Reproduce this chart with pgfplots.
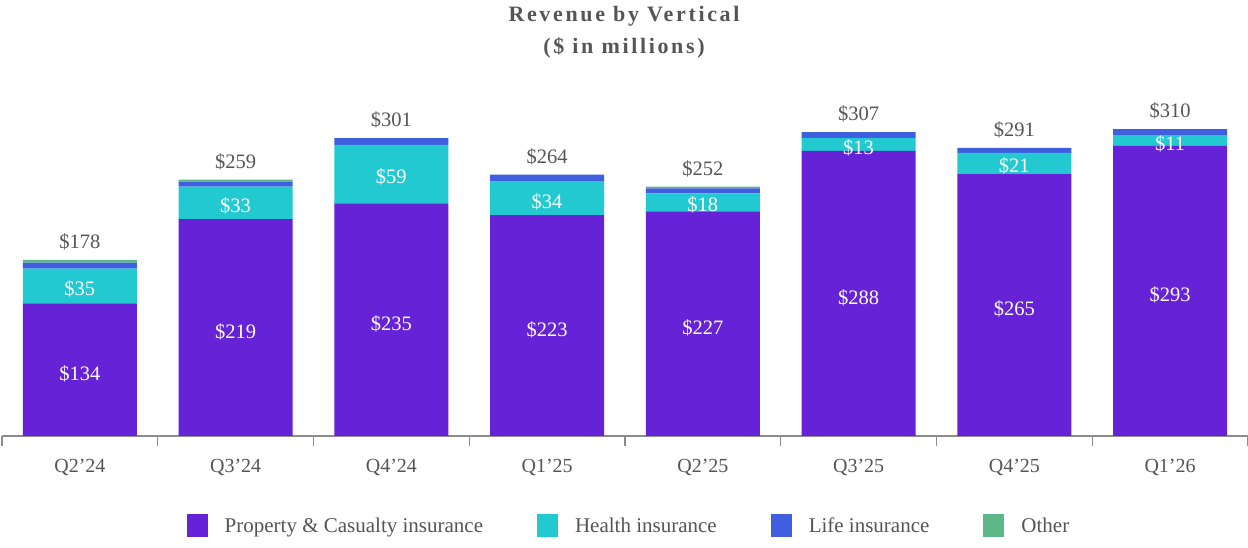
\documentclass[border=0pt]{standalone}
\usepackage{fontspec}
\setmainfont{Liberation Serif}
\usepackage{pgfplots}
\usepackage{pgfplotstable}
\pgfplotsset{compat=1.18}
\definecolor{pc}{HTML}{6622D6}
\definecolor{health}{HTML}{22C9D0}
\definecolor{life}{HTML}{3F5FE0}
\definecolor{other}{HTML}{5CB887}
\definecolor{txtgray}{HTML}{555555}
\definecolor{axgray}{HTML}{8C8C8C}
\pgfplotstableread{
x pc health life other total
0 134 35 6 3 178
1 219 33 5 2 259
2 235 59 7 0 301
3 223 34 7 0 264
4 227 18 5 2 252
5 288 13 6 0 307
6 265 21 5 0 291
7 293 11 6 0 310
}\datatable
\pgfplotsset{
  sq legend/.style={legend image code/.code={\fill[##1,draw=none] (0pt,-11.5pt) rectangle (21pt,11.5pt);}},
  common/.style={scale only axis, width=1246pt, height=435.6pt,
    xmin=-0.5, xmax=7.5, ymin=0, ymax=440},
}
\begin{document}
\begin{tikzpicture}
\useasboundingbox (-2pt,-112pt) rectangle (1246pt,436pt);
\begin{axis}[common,
  ybar stacked, bar width=114pt,
  axis x line*=bottom, axis y line=none,
  xtick={-0.5,0.5,...,7.5}, x tick label as interval,
  xticklabels={Q2’24,Q3’24,Q4’24,Q1’25,Q2’25,Q3’25,Q4’25,Q1’26},
  tick align=outside, major tick length=10pt,
  x axis line style={axgray, line width=1.3pt},
  xtick style={axgray, line width=1.3pt},
  xticklabel style={font=\fontsize{20}{24}\selectfont, text=txtgray, yshift=-10pt},
  legend columns=4,
  legend style={draw=none, at={(0.5,-0.206)}, anchor=center, xshift=4pt,
    font=\fontsize{21}{25}\selectfont, text=txtgray,
    /tikz/every odd column/.append style={column sep=15pt},
    /tikz/every even column/.append style={column sep=52pt}},
]
\addplot[fill=pc, draw=none, sq legend] table[x=x, y=pc] {\datatable};
\addlegendentry{Property \& Casualty insurance}
\addplot[fill=health, draw=none, sq legend] table[x=x, y=health] {\datatable};
\addlegendentry{Health insurance}
\addplot[fill=life, draw=none, sq legend] table[x=x, y=life] {\datatable};
\addlegendentry{Life insurance}
\addplot[fill=other, draw=none, sq legend] table[x=x, y=other] {\datatable};
\addlegendentry{Other}
\end{axis}
\begin{axis}[common, hide axis,
  nodes near coords={\$\pgfmathprintnumber[assume math mode=true]{\pgfplotspointmeta}},
  nodes near coords style={font=\fontsize{20.5}{24}\selectfont, anchor=center},
  point meta=explicit,
]
\addplot[draw=none, mark=none, nodes near coords style={text=white, yshift=-4pt}]
  table[x=x, y expr=\thisrow{pc}/2, meta=pc] {\datatable};
\addplot[draw=none, mark=none, nodes near coords style={text=white, yshift=-3pt}]
  table[x=x, y expr=\thisrow{pc}+\thisrow{health}/2, meta=health] {\datatable};
\addplot[draw=none, mark=none, nodes near coords style={text=txtgray, yshift=18pt}]
  table[x=x, y=total, meta=total] {\datatable};
\end{axis}
\node[font=\bfseries\fontsize{22}{32}\selectfont\addfontfeatures{LetterSpace=12}, text=txtgray, align=center]
  at (622pt,404pt) {Revenue by Vertical\\(\$ in millions)};
\end{tikzpicture}
\end{document}
